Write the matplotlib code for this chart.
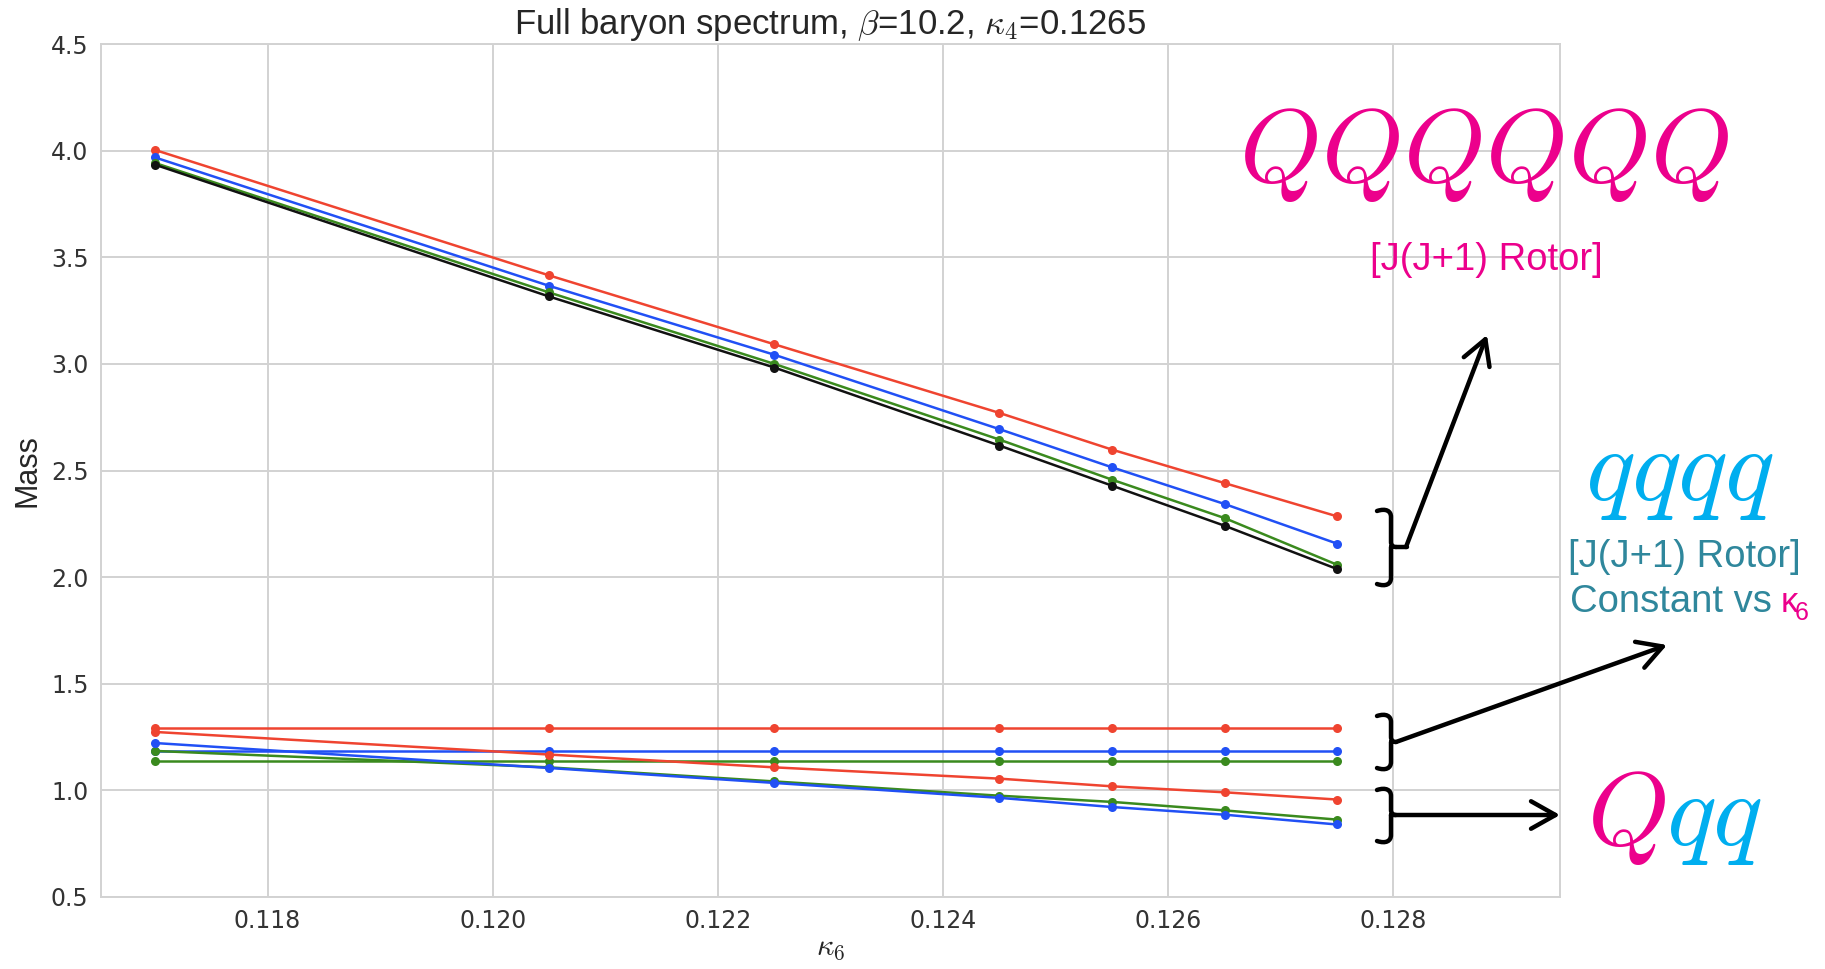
import matplotlib
matplotlib.use("Agg")
import matplotlib.pyplot as plt
from matplotlib.patches import FancyArrowPatch
from matplotlib.path import Path
from matplotlib.patches import PathPatch

# -------------------------------
# Dati
# -------------------------------
kappa6 = [0.117, 0.1205, 0.1225, 0.1245, 0.1255, 0.1265, 0.1275]

# stati QQQQQQ (J(J+1) rotor)
hex_red = [4.003, 3.415, 3.092, 2.770, 2.598, 2.441, 2.285]
hex_blue = [3.968, 3.366, 3.043, 2.694, 2.515, 2.343, 2.157]
hex_green = [3.942, 3.335, 3.000, 2.645, 2.457, 2.277, 2.058]
hex_black = [3.934, 3.316, 2.983, 2.617, 2.429, 2.241, 2.038]

# stati qqqq (costanti in kappa6)
quad_red = [1.293, 1.293, 1.293, 1.293, 1.293, 1.293, 1.293]
quad_blue = [1.183, 1.183, 1.183, 1.183, 1.183, 1.183, 1.183]
quad_green = [1.139, 1.139, 1.139, 1.139, 1.139, 1.139, 1.139]

# stati Qqq
qqq_red = [1.274, 1.168, 1.108, 1.055, 1.019, 0.991, 0.957]
qqq_green = [1.185, 1.108, 1.042, 0.975, 0.946, 0.906, 0.863]
qqq_blue = [1.222, 1.105, 1.035, 0.965, 0.922, 0.886, 0.840]

yticks = [0.5, 1.0, 1.5, 2.0, 2.5, 3.0, 3.5, 4.0, 4.5]
xticks = [0.118, 0.120, 0.122, 0.124, 0.126, 0.128]

RED = "#ef4430"
BLUE = "#2150f5"
GREEN = "#3a8a1e"
BLACK = "#111111"
MAGENTA = "#ec008c"
CYAN = "#00aeef"
TEAL = "#2f879c"
GRID = "#d2d2d2"

plt.rcParams["mathtext.fontset"] = "cm"
plt.rcParams["font.family"] = ["DejaVu Sans"]

fig = plt.figure(figsize=(18.25, 9.69), dpi=100)
ax = fig.add_axes([101 / 1825, 1 - 897 / 969, (1560 - 101) / 1825, (897 - 44) / 969])

series = [
    (hex_red, RED), (hex_blue, BLUE), (hex_green, GREEN), (hex_black, BLACK),
    (quad_red, RED), (quad_blue, BLUE), (quad_green, GREEN),
    (qqq_red, RED), (qqq_green, GREEN), (qqq_blue, BLUE),
]
for vals, col in series:
    ax.plot(kappa6, vals, "-o", color=col, lw=1.8, ms=6.5, mew=0)

ax.set_xlim(0.11652, 0.12948)
ax.set_ylim(0.5, 4.5)
ax.set_xticks(xticks)
ax.set_xticklabels([f"{v:.3f}" for v in xticks])
ax.set_yticks(yticks)
ax.set_yticklabels([f"{v:.1f}" for v in yticks])
ax.tick_params(length=0, labelsize=17, colors="#333333", pad=9)
ax.grid(True, color=GRID, lw=1.4)
ax.set_axisbelow(True)
for s in ax.spines.values():
    s.set_color(GRID)
    s.set_linewidth(1.4)

ax.set_title(r"Full baryon spectrum, $\beta$=10.2, $\kappa_4$=0.1265",
             fontsize=25, family=["Liberation Sans"], color="#262626", pad=7)
ax.set_ylabel("Mass", fontsize=22, family=["Liberation Sans"], color="#262626", labelpad=6)
ax.set_xlabel(r"$\kappa_6$", fontsize=22, color="#262626", labelpad=0)

# ----------------------------------------
# Annotazioni (coordinate in pixel)
# ----------------------------------------
ov = fig.add_axes([0, 0, 1, 1], zorder=5)
ov.set_xlim(0, 1825)
ov.set_ylim(969, 0)
ov.axis("off")
ov.patch.set_alpha(0)


def bracket(ya, yb, ym, x0=1377, xv=1391):
    verts = [(x0, ya + 2), (x0 + 9, ya - 1), (xv, ya + 2), (xv, ya + 8),
             (xv, ym - 5), (xv, ym), (xv + 5, ym),
             (xv, ym), (xv, ym + 5),
             (xv, yb - 8), (xv, yb - 2), (x0 + 9, yb + 1), (x0, yb - 2)]
    codes = [Path.MOVETO, Path.CURVE4, Path.CURVE4, Path.CURVE4,
             Path.LINETO, Path.CURVE3, Path.CURVE3,
             Path.MOVETO, Path.LINETO,
             Path.LINETO, Path.CURVE4, Path.CURVE4, Path.CURVE4]
    ov.add_patch(PathPatch(Path(verts, codes), fill=False, lw=3.2, color="black",
                           capstyle="round", joinstyle="round"))


def arrow(p0, p1):
    ov.add_patch(FancyArrowPatch(p0, p1, arrowstyle="->,head_length=0.8,head_width=0.45",
                                 mutation_scale=22, lw=3.2, color="black",
                                 shrinkA=0, shrinkB=0, capstyle="round", joinstyle="round"))


bracket(509, 586, 547)
bracket(714, 770, 742)
bracket(788, 843, 815)
ov.plot([1396, 1407], [547, 547], color="black", lw=3.2, solid_capstyle="round")
arrow((1406, 547), (1487, 335))
arrow((1396, 742), (1667, 645))
arrow((1391, 815), (1560, 815))

ov.text(1484, 182, r"$QQQQQQ$", color=MAGENTA, fontsize=75, ha="center", va="baseline")
ov.text(1486, 260, "[J(J+1) Rotor]", color=MAGENTA, fontsize=27.5,
        family=["Liberation Sans"], ha="center", va="center")
ov.text(1679, 500, r"$qqqq$", color=CYAN, fontsize=75, ha="center", va="baseline")
ov.text(1684, 557, "[J(J+1) Rotor]", color=TEAL, fontsize=27.5,
        family=["Liberation Sans"], ha="center", va="center")
ov.text(1570, 612, "Constant vs", color=TEAL, fontsize=27.5,
        family=["Liberation Sans"], ha="left", va="baseline")
ov.text(1781, 612, "κ", color=MAGENTA, fontsize=25,
        family=["Liberation Sans"], ha="left", va="baseline")
ov.text(1795, 620, "6", color=MAGENTA, fontsize=18,
        family=["Liberation Sans"], ha="left", va="baseline")
ov.text(1587, 845, r"$Q$", color=MAGENTA, fontsize=75, ha="left", va="baseline")
ov.text(1666, 845, r"$qq$", color=CYAN, fontsize=75, ha="left", va="baseline")

fig.savefig("out.png", dpi=100)
